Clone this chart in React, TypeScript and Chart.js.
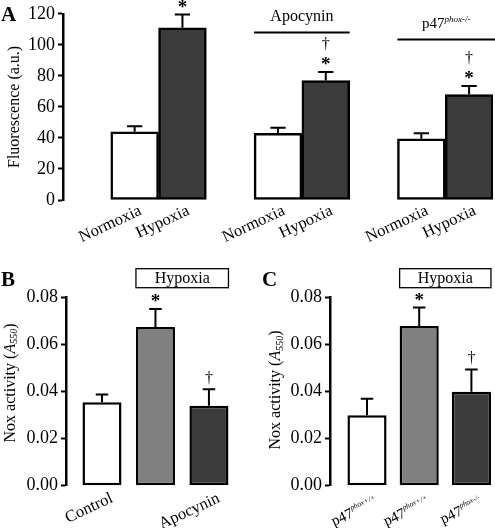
import React, { useEffect, useRef } from "react";
import { Chart, registerables } from "chart.js";

Chart.register(...registerables);

const SERIF = '"Liberation Serif", "Times New Roman", serif';

// ---------------- Panel A data ----------------
const aCategories = ["", "Normoxia", "Hypoxia", "", "Normoxia", "Hypoxia", "", "Normoxia", "Hypoxia"];
const aMeans = [null, 44, 111, null, 43, 77, null, 39.5, 68];
const aErrors = [null, 3.5, 8.5, null, 3.5, 5.5, null, 3.5, 5.5];
const aMarks = ["", "", "*", "", "", "†*", "", "", "†*"];
const aGroupNames = ["Apocynin", "p47"];
const aGroupSups = ["", "phox-/-"];

// ---------------- Panel B data ----------------
const bCategories = ["Control", "", "Apocynin"];
const bMeans = [0.0355, 0.0675, 0.034];
const bErrors = [0.0033, 0.0077, 0.007];
const bMarks = ["", "*", "†"];

// ---------------- Panel C data ----------------
const cCategories = ["p47", "p47", "p47"];
const cCategorySups = ["phox+/+", "phox+/+", "phox-/-"];
const cMeans = [0.03, 0.068, 0.04];
const cErrors = [0.007, 0.0078, 0.0095];
const cMarks = ["", "*", "†"];

// ---------------- styles ----------------
const WHITE = "#ffffff";
const GRAY = "#808080";
const DARK = "#3c3c3c";
const A_FILL: Record<string, string> = { Normoxia: WHITE, Hypoxia: DARK, "": WHITE };
const BC_FILL = [WHITE, GRAY, DARK];

type Part = { text: string; font: string; dy?: number };

const font = (size: number, style = "") => `${style} ${size}px ${SERIF}`.trim();

function richWidth(ctx: CanvasRenderingContext2D, parts: Part[]) {
  let w = 0;
  for (const p of parts) {
    ctx.font = p.font;
    w += ctx.measureText(p.text).width;
  }
  return w;
}

function drawRich(
  ctx: CanvasRenderingContext2D,
  parts: Part[],
  x: number,
  y: number,
  align: "left" | "center" | "right"
) {
  const total = richWidth(ctx, parts);
  let cx = align === "center" ? x - total / 2 : align === "right" ? x - total : x;
  ctx.textAlign = "left";
  for (const p of parts) {
    ctx.font = p.font;
    ctx.fillText(p.text, cx, y + (p.dy || 0));
    cx += ctx.measureText(p.text).width;
  }
}

function drawCentered(ctx: CanvasRenderingContext2D, text: string, f: string, x: number, cy: number) {
  ctx.font = f;
  ctx.textAlign = "center";
  ctx.textBaseline = "alphabetic";
  const m = ctx.measureText(text);
  const off = (m.actualBoundingBoxAscent - m.actualBoundingBoxDescent) / 2;
  ctx.fillText(text, x, cy + off);
}

function valueOf(raw: any): number | null {
  if (raw == null) return null;
  if (typeof raw === "number") return raw;
  return raw.y ?? null;
}

// error bars + significance marks
const errorBarPlugin = {
  id: "errorBars",
  afterDatasetsDraw(chart: any) {
    const ctx: CanvasRenderingContext2D = chart.ctx;
    const yScale = chart.scales.y;
    chart.data.datasets.forEach((ds: any, di: number) => {
      const meta = chart.getDatasetMeta(di);
      meta.data.forEach((el: any, i: number) => {
        const val = valueOf(ds.data[i]);
        const err = ds.errors ? ds.errors[i] : null;
        if (val == null || err == null) return;
        const x = el.x;
        const capY = yScale.getPixelForValue(val + err);
        const capW = el.width * 0.32;
        ctx.save();
        ctx.strokeStyle = "#000";
        ctx.lineWidth = 2;
        ctx.beginPath();
        ctx.moveTo(x, el.y);
        ctx.lineTo(x, capY);
        ctx.moveTo(x - capW / 2, capY);
        ctx.lineTo(x + capW / 2, capY);
        ctx.stroke();
        const marks: string = (ds.marks && ds.marks[i]) || "";
        ctx.fillStyle = "#000";
        const star = marks.includes("*");
        const dagger = marks.includes("†");
        if (star) drawCentered(ctx, "*", font(19, "bold"), x, capY - 10.5);
        if (dagger) drawCentered(ctx, "†", font(16), x, star ? capY - 28 : capY - 11);
        ctx.restore();
      });
    });
  },
};

function makeDecor(cfg: any) {
  return {
    id: "decor",
    afterDraw(chart: any) {
      const ctx: CanvasRenderingContext2D = chart.ctx;
      const yScale = chart.scales.y;
      const area = chart.chartArea;
      const meta = chart.getDatasetMeta(0);
      ctx.save();
      ctx.fillStyle = "#000";
      ctx.strokeStyle = "#000";
      // panel letter
      if (cfg.letter) {
        ctx.font = font(21, "bold");
        ctx.textAlign = "left";
        ctx.textBaseline = "alphabetic";
        ctx.fillText(cfg.letter.text, cfg.letter.x, cfg.letter.y);
      }
      // group brackets (panel A)
      (cfg.brackets || []).forEach((b: any) => {
        const e1 = meta.data[b.first];
        const e2 = meta.data[b.last];
        const x1 = e1.x - e1.width / 2;
        const x2 = e2.x + e2.width / 2 + (b.overhang || 0);
        const y = yScale.getPixelForValue(b.level);
        ctx.lineWidth = 2;
        ctx.beginPath();
        ctx.moveTo(x1, y);
        ctx.lineTo(x2, y);
        ctx.stroke();
        ctx.textBaseline = "alphabetic";
        const parts: Part[] = [{ text: b.text, font: font(b.sup ? 15 : 16) }];
        if (b.sup) parts.push({ text: b.sup, font: font(9, "italic"), dy: -6 });
        drawRich(ctx, parts, (x1 + x2) / 2, y - 11, "center");
      });
      // labelled box (panels B, C)
      if (cfg.box) {
        const e1 = meta.data[cfg.box.first];
        const e2 = meta.data[cfg.box.last];
        const x1 = e1.x - e1.width / 2;
        const x2 = e2.x + e2.width / 2;
        const yTop = area.top - 29;
        const yBot = area.top - 10;
        ctx.lineWidth = 1.3;
        ctx.strokeRect(x1, yTop, x2 - x1, yBot - yTop);
        ctx.font = font(16);
        ctx.textAlign = "center";
        ctx.textBaseline = "middle";
        ctx.fillText(cfg.box.text, (x1 + x2) / 2, (yTop + yBot) / 2 + 1);
      }
      // rich y title
      if (cfg.yTitle) {
        ctx.save();
        ctx.translate(cfg.yTitle.x, cfg.yTitle.y);
        ctx.rotate(-Math.PI / 2);
        ctx.textBaseline = "middle";
        drawRich(
          ctx,
          [
            { text: "Nox activity (", font: font(16) },
            { text: "A", font: font(16, "italic") },
            { text: "550", font: font(10, "italic"), dy: 4 },
            { text: ")", font: font(16) },
          ],
          0,
          0,
          "center"
        );
        ctx.restore();
      }
      // rotated category labels, anchored at each bar through the x scale
      if (cfg.xLabels) {
        const L = cfg.xLabels;
        L.base.forEach((base: string, i: number) => {
          if (!base) return;
          const el = meta.data[i];
          ctx.save();
          ctx.translate(el.x + L.dx, area.bottom + L.dy);
          ctx.rotate((-25 * Math.PI) / 180);
          ctx.textBaseline = "middle";
          const parts: Part[] = [{ text: base, font: font(L.size) }];
          if (L.sups && L.sups[i]) parts.push({ text: L.sups[i], font: font(L.supSize, "italic"), dy: -5 });
          drawRich(ctx, parts, 0, 0, "right");
          ctx.restore();
        });
      }
      ctx.restore();
    },
  };
}

function yAxis(max: number, step: number, width: number, fmt: (v: number) => string, title?: string) {
  return {
    min: 0,
    max,
    ticks: {
      stepSize: step,
      color: "#000",
      font: { family: SERIF, size: 18 },
      padding: 3,
      callback: (v: any) => fmt(Number(v)),
    },
    grid: {
      display: true,
      drawOnChartArea: false,
      drawTicks: true,
      tickLength: 5,
      tickWidth: 2,
      tickColor: "#000",
    },
    border: { display: true, color: "#000", width: 2.5 },
    title: title
      ? {
          display: true,
          text: title,
          color: "#000",
          font: { family: SERIF, size: 16 },
          padding: { top: 5, bottom: 0 },
        }
      : { display: false },
    afterFit: (s: any) => {
      s.width = width;
    },
  };
}

function useChart(ref: React.RefObject<HTMLCanvasElement>, makeConfig: () => any) {
  useEffect(() => {
    if (!ref.current) return;
    const chart = new Chart(ref.current, makeConfig());
    return () => chart.destroy();
  }, []);
}

const commonOptions = {
  responsive: false,
  animation: false as const,
  devicePixelRatio: 1,
  events: [] as any[],
};

function linearX(min: number, max: number, n: number) {
  return {
    type: "linear",
    min,
    max,
    offset: false,
    grid: { display: false, offset: false },
    border: { display: false },
    afterBuildTicks: (s: any) => {
      s.ticks = Array.from({ length: n }, (_, i) => ({ value: i }));
    },
    ticks: { display: false },
    afterFit: (s: any) => {
      s.height = 42.3;
    },
  };
}

export default function App() {
  const refA = useRef<HTMLCanvasElement>(null);
  const refB = useRef<HTMLCanvasElement>(null);
  const refC = useRef<HTMLCanvasElement>(null);

  useChart(refA, () => ({
    type: "bar",
    data: {
      labels: aCategories,
      datasets: [
        {
          data: aMeans,
          errors: aErrors,
          marks: aMarks,
          backgroundColor: (c: any) => A_FILL[aCategories[c.dataIndex]] || WHITE,
          borderColor: "#000",
          borderWidth: 2.5,
          borderSkipped: false,
          barPercentage: 1,
          categoryPercentage: 1,
        },
      ],
    },
    options: {
      ...commonOptions,
      layout: { padding: { top: 13.5, right: 2, left: 0, bottom: 0 } },
      plugins: { legend: { display: false }, tooltip: { enabled: false } },
      scales: {
        x: {
          grid: { display: false },
          border: { display: false },
          ticks: { display: false },
          afterFit: (s: any) => {
            s.height = 52;
          },
        },
        y: yAxis(120, 20, 63, (v) => String(v), "Fluorescence (a.u.)"),
      },
    },
    plugins: [
      errorBarPlugin,
      makeDecor({
        letter: { text: "A", x: 1, y: 21 },
        brackets: [
          { first: 4, last: 5, level: 108, text: aGroupNames[0], sup: aGroupSups[0] },
          { first: 7, last: 8, level: 103.5, text: aGroupNames[1], sup: aGroupSups[1], overhang: 2 },
        ],
        xLabels: { base: aCategories, size: 16.5, dx: 6, dy: 10 },
      }),
    ],
  }));

  useChart(refB, () => ({
    type: "bar",
    data: {
      datasets: [
        {
          data: bMeans.map((y, i) => ({ x: i, y })),
          errors: bErrors,
          marks: bMarks,
          backgroundColor: (c: any) => BC_FILL[c.dataIndex],
          borderColor: "#000",
          borderWidth: 2.5,
          borderSkipped: false,
          barPercentage: 0.73,
          categoryPercentage: 1,
        },
      ],
    },
    options: {
      ...commonOptions,
      layout: { padding: { top: 42.7, right: 14, left: 0, bottom: 0 } },
      plugins: { legend: { display: false }, tooltip: { enabled: false } },
      scales: {
        x: linearX(-0.673, 2.45, bCategories.length),
        y: yAxis(0.08, 0.02, 66, (v) => v.toFixed(2)),
      },
    },
    plugins: [
      errorBarPlugin,
      makeDecor({
        letter: { text: "B", x: 1, y: 31 },
        box: { first: 1, last: 2, text: "Hypoxia" },
        yTitle: { x: 10.5, y: 128 },
        xLabels: { base: bCategories, size: 16.5, dx: 10, dy: 12 },
      }),
    ],
  }));

  useChart(refC, () => ({
    type: "bar",
    data: {
      datasets: [
        {
          data: cMeans.map((y, i) => ({ x: i, y })),
          errors: cErrors,
          marks: cMarks,
          backgroundColor: (c: any) => BC_FILL[c.dataIndex],
          borderColor: "#000",
          borderWidth: 2.5,
          borderSkipped: false,
          barPercentage: 0.75,
          categoryPercentage: 1,
        },
      ],
    },
    options: {
      ...commonOptions,
      layout: { padding: { top: 42.7, right: 2.2, left: 0, bottom: 0 } },
      plugins: { legend: { display: false }, tooltip: { enabled: false } },
      scales: {
        x: linearX(-0.709, 2.41, cCategories.length),
        y: yAxis(0.08, 0.02, 83, (v) => v.toFixed(2)),
      },
    },
    plugins: [
      errorBarPlugin,
      makeDecor({
        letter: { text: "C", x: 15, y: 31 },
        box: { first: 1, last: 2, text: "Hypoxia" },
        yTitle: { x: 29, y: 135 },
        xLabels: { base: cCategories, sups: cCategorySups, size: 15, supSize: 7.5, dx: 10, dy: 16 },
      }),
    ],
  }));

  return (
    <div
      style={{
        position: "fixed",
        left: 0,
        top: 0,
        width: 495,
        height: 528,
        background: "#fff",
        overflow: "hidden",
      }}
    >
      <canvas
        ref={refA}
        width={495}
        height={252}
        style={{ position: "absolute", left: 0, top: 0, width: 495, height: 252 }}
      />
      <canvas
        ref={refB}
        width={247}
        height={273}
        style={{ position: "absolute", left: 0, top: 255, width: 247, height: 273 }}
      />
      <canvas
        ref={refC}
        width={248}
        height={273}
        style={{ position: "absolute", left: 247, top: 255, width: 248, height: 273 }}
      />
    </div>
  );
}
